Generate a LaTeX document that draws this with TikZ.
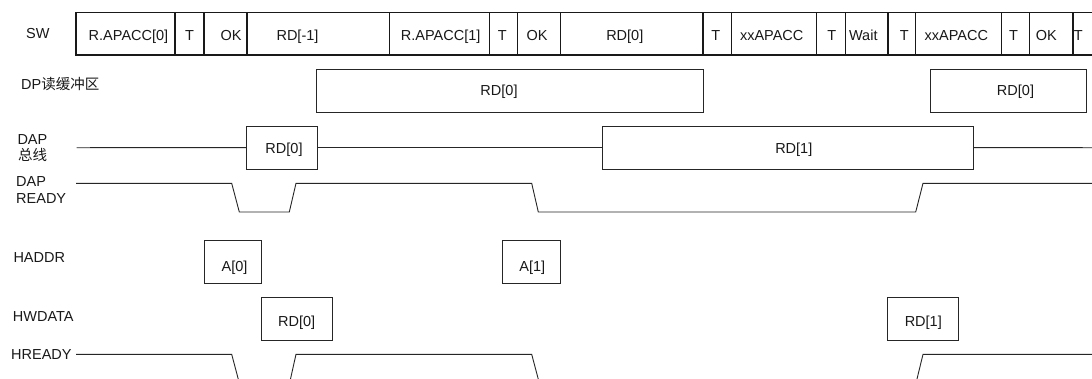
\documentclass[tikz,border=0pt]{standalone}
\usepackage{fontspec}
\setmainfont{Liberation Sans}
\newfontfamily\cjk{Noto Sans CJK SC}
\begin{document}
\begin{tikzpicture}[x=1pt,y=-1pt,
  font=\fontsize{14.5}{16}\selectfont,
  swbox/.style={draw=black!90,line width=1.2pt},
  sigbox/.style={draw=black!85,line width=0.9pt},
  sig/.style={draw=black!85,line width=0.9pt},
  txt/.style={anchor=base,inner sep=0pt,text=black!90},
  lbl/.style={anchor=base west,inner sep=0pt,text=black!90}]
\useasboundingbox (0,0) rectangle (1092,378);
\fill[white] (0,0) rectangle (1092,378);
\begin{scope}
\clip (0,0) rectangle (1092,378);
% ---- SW row boxes
\foreach \a/\b in {76/175,175/204,204/247,247/389.7,389.7/489.7,489.7/517.3,517.3/560.3,560.3/703,703/731.3,731.3/816.3,816.3/845.3,845.3/888,888/915.7,915.7/1001.3,1001.3/1029.7,1029.7/1073,1073/1100}
  \draw[swbox] (\a,12.3) rectangle (\b,55);
% ---- DP buffer
\draw[sigbox] (316.7,69) rectangle (703,112.3);
\draw[sigbox] (930.3,69.7) rectangle (1086.3,112.3);
% ---- DAP bus
\coordinate (bus0) at (76.7,147.7);
\coordinate (bus1) at (1092,147.7);
\node[sigbox,minimum width=70.6pt,minimum height=43.3pt,inner sep=0pt,outer sep=0pt,anchor=north west] (busA) at (246.7,126) {};
\node[sigbox,minimum width=370.7pt,minimum height=43.3pt,inner sep=0pt,outer sep=0pt,anchor=north west] (busB) at (602.3,126) {};
\draw[sig] (bus0) -- (busA.west);
\draw[sig] (busA.east) -- (busB.west);
\draw[sig] (busB.east) -- (bus1);
% ---- DAP READY
\draw[sig] (76,183.3) -- (231.7,183.3) -- (239.3,212) -- (289.3,212) -- (296,183.3) -- (531.7,183.3) -- (538.3,212) -- (915.7,212) -- (923,183.3) -- (1092,183.3);
% ---- HADDR
\draw[sigbox] (204,240) rectangle (261,283.3);
\draw[sigbox] (502.3,240) rectangle (560.3,283.3);
% ---- HWDATA
\draw[sigbox] (261,297.7) rectangle (332.3,340);
\draw[sigbox] (887.3,297.7) rectangle (958.7,340);
% ---- HREADY
\draw[sig] (76,354.3) -- (231.7,354.3) -- (239.3,383) -- (289.6,383) -- (296,354.3) -- (531.7,354.3) -- (539.3,383) -- (916,383) -- (923,354.3) -- (1095,354.3);
\end{scope}
% ---- labels
\node[lbl] (lsw) at (26,38.3) {SW};
\node[lbl] (ldp) at (21,89) {DP{\cjk 读缓冲区}};
\node[lbl] (ldap1) at (17.3,144) {DAP};
\node[lbl] (ldap2) at (18,160) {\cjk 总线};
\node[lbl] (lrdy1) at (16,186.5) {DAP};
\node[lbl] (lrdy2) at (16,203.3) {READY};
\node[lbl] (lhaddr) at (13.3,262) {HADDR};
\node[lbl] (lhw) at (12.7,321.7) {HWDATA};
\node[lbl] (lhr) at (11,359) {HREADY};
% ---- SW texts
\foreach \x/\t [count=\i] in {128.5/{R.APACC[0]},189.5/T,231/OK,297.5/{RD[-1]},440.7/{R.APACC[1]},502.3/T,537/OK,624.8/{RD[0]},715.7/T,771.7/xxAPACC,831.7/T,863.3/Wait,904.3/T,956.3/xxAPACC,1013.5/T,1046.3/OK,1078.3/T}
  \node[txt] (sw\i) at (\x,40) {\t};
% ---- other texts
\node[txt] (dp1) at (499,95.5) {RD[0]};
\node[txt] (dp2) at (1015.5,95.5) {RD[0]};
\node[txt] (ba) at (284,153) {RD[0]};
\node[txt] (bb) at (793.8,153) {RD[1]};
\node[txt] (ha0) at (234.5,271) {A[0]};
\node[txt] (ha1) at (532.3,271) {A[1]};
\node[txt] (hw0) at (296.7,326) {RD[0]};
\node[txt] (hw1) at (923.3,326) {RD[1]};
\end{tikzpicture}
\end{document}
